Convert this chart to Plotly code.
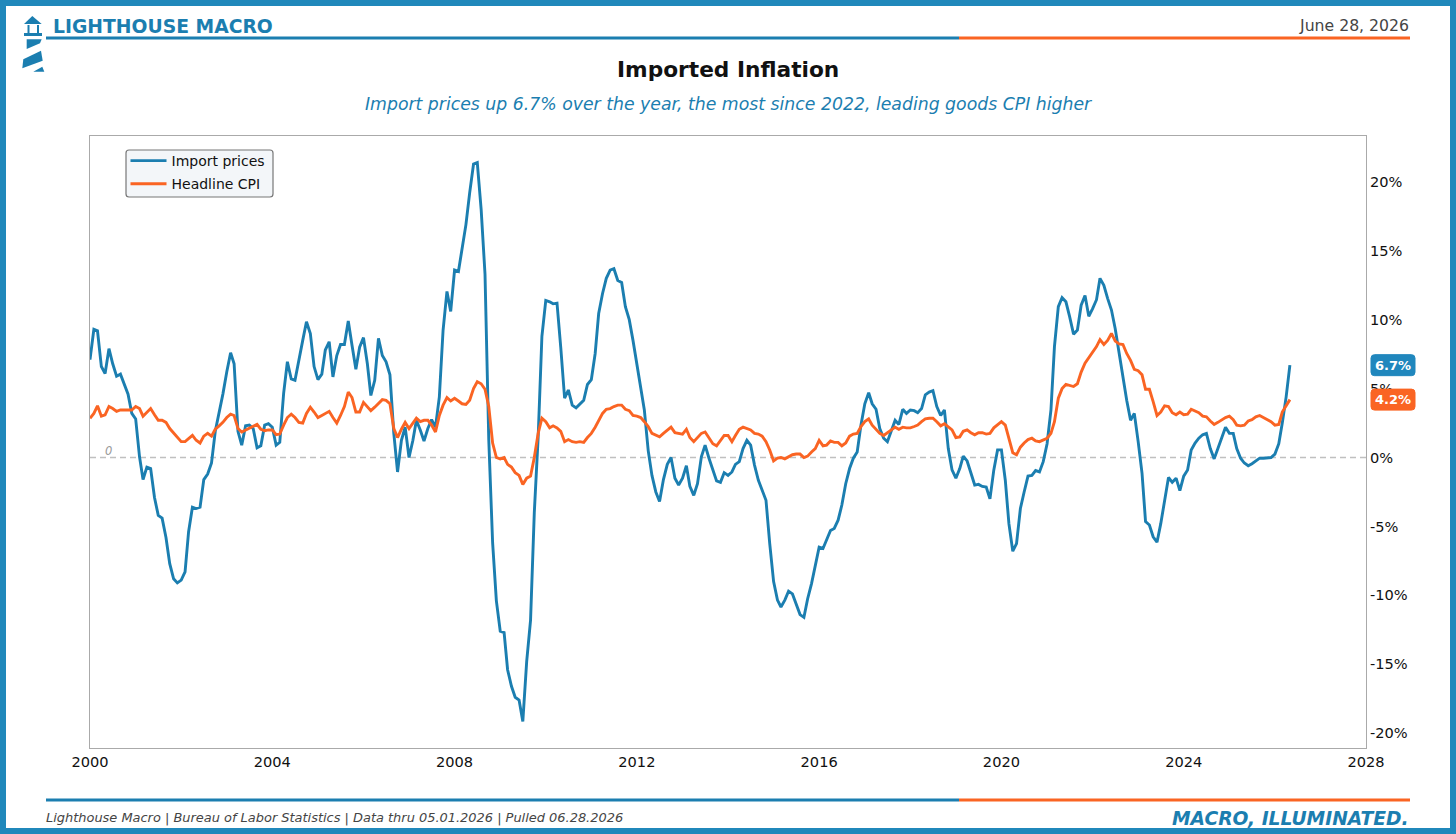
import pandas as pd
import plotly.graph_objects as go

# Year-over-year percent change, monthly from January 2000 to May 2026.
import_prices = [
    7.1, 9.3, 9.2, 6.6, 6.1, 7.9, 6.8, 5.9, 6.05, 5.4, 4.6, 3.2,
    2.8, 0.05, -1.6, -0.7, -0.8, -2.9, -4.2, -4.4, -5.8, -7.7, -8.8, -9.1,
    -8.9, -8.3, -5.4, -3.6, -3.7, -3.6, -1.6, -1.2, -0.4, 1.9, 3.2, 4.6,
    6.2, 7.6, 6.8, 1.9, 0.9, 2.3, 2.35, 2.1, 0.7, 0.85, 2.35, 2.45,
    2.2, 0.9, 1.1, 4.65, 6.95, 5.7, 5.6, 7.2, 8.5, 9.85, 9.0, 6.6,
    5.65, 6.05, 7.8, 8.4, 5.85, 7.4, 8.2, 8.2, 9.9, 8.15, 6.4, 8.0,
    8.7, 6.8, 4.5, 5.6, 8.65, 7.4, 6.95, 6.0, 1.75, -1.05, 1.25, 2.2,
    0.0, 1.25, 2.7, 2.0, 1.2, 2.1, 2.75, 2.2, 4.4, 9.25, 12.05, 10.6,
    13.6, 13.5, 15.3, 16.9, 19.2, 21.3, 21.4, 18.0, 13.3, 1.3, -6.2, -10.4,
    -12.6, -12.7, -15.4, -16.6, -17.4, -17.6, -19.15, -14.8, -11.8, -4.0, 1.5, 8.8,
    11.4, 11.3, 11.15, 11.2, 8.0, 4.3, 4.9, 3.8, 3.6, 3.9, 4.15, 5.3,
    5.65, 7.55, 10.45, 11.9, 13.0, 13.6, 13.7, 12.85, 12.7, 10.95, 10.0, 8.5,
    6.8, 5.1, 3.45, 0.5, -1.3, -2.5, -3.2, -1.6, -0.5, 0.0, -1.5, -2.0,
    -1.5, -0.6, -2.1, -2.75, -1.9, 0.05, 0.9, -0.05, -0.9, -1.7, -1.8, -1.1,
    -1.3, -1.05, -0.5, -0.3, 0.65, 1.25, 0.9, -0.55, -1.65, -2.35, -3.1, -6.25,
    -9.0, -10.35, -10.85, -10.35, -9.7, -9.9, -10.6, -11.4, -11.6, -10.25, -9.15, -7.95,
    -6.5, -6.6, -6.0, -5.3, -5.15, -4.55, -3.45, -1.9, -0.8, -0.05, 0.4, 2.35,
    3.9, 4.7, 3.9, 3.5, 2.1, 1.4, 1.15, 2.0, 2.7, 2.4, 3.5, 3.2,
    3.45, 3.4, 3.25, 3.55, 4.55, 4.75, 4.85, 3.7, 3.05, 3.45, 0.65, -0.9,
    -1.5, -0.8, 0.1, -0.25, -1.05, -2.0, -1.95, -2.1, -2.15, -3.0, -0.9, 0.55,
    0.55, -1.65, -4.8, -6.8, -6.25, -3.7, -2.5, -1.35, -1.3, -0.95, -1.05, -0.3,
    1.0, 3.45, 8.05, 10.95, 11.6, 11.3, 10.2, 8.95, 9.25, 11.05, 11.75, 10.25,
    10.8, 11.45, 13.0, 12.5, 11.55, 10.7, 9.35, 7.55, 6.0, 4.15, 2.7, 3.2,
    1.15, -1.15, -4.65, -4.9, -5.75, -6.15, -4.8, -3.1, -1.45, -1.8, -1.5, -2.4,
    -1.35, -0.9, 0.55, 1.05, 1.4, 1.65, 1.75, 0.65, -0.1, 0.65, 1.4, 2.2,
    1.75, 1.75, 0.65, -0.05, -0.4, -0.6, -0.45, -0.25, -0.05, -0.05, -0.05, 0.0,
    0.25, 1.0, 2.5, 4.4, 6.7,
]
headline_cpi = [
    2.85, 3.2, 3.75, 3.0, 3.1, 3.7, 3.55, 3.35, 3.45, 3.45, 3.45, 3.45,
    3.7, 3.55, 3.0, 3.25, 3.55, 3.1, 2.7, 2.7, 2.55, 2.1, 1.8, 1.5,
    1.15, 1.15, 1.4, 1.6, 1.25, 1.05, 1.55, 1.75, 1.55, 2.05, 2.3, 2.55,
    2.9, 3.15, 3.05, 2.1, 1.85, 2.0, 2.1, 2.25, 2.4, 2.05, 1.95, 2.0,
    2.0, 1.65, 1.7, 2.35, 2.9, 3.15, 2.9, 2.55, 2.5, 3.2, 3.65, 3.3,
    2.9, 3.05, 3.2, 3.35, 2.9, 2.5, 3.05, 3.7, 4.75, 4.35, 3.3, 3.3,
    4.0, 3.7, 3.4, 3.65, 3.95, 4.2, 4.15, 3.9, 2.1, 1.45, 2.05, 2.55,
    2.1, 2.45, 2.85, 2.6, 2.7, 2.7, 2.35, 1.85, 3.05, 3.8, 4.35, 4.1,
    4.3, 4.1, 3.9, 3.85, 4.15, 5.0, 5.5, 5.35, 4.95, 3.7, 1.05, 0.0,
    -0.1, 0.0, -0.5, -0.7, -1.1, -1.3, -1.95, -1.5, -1.35, 0.0, 1.75, 2.85,
    2.6, 2.15, 2.3, 2.15, 1.9, 1.15, 1.3, 1.15, 1.1, 1.15, 1.1, 1.45,
    1.75, 2.2, 2.7, 3.2, 3.5, 3.55, 3.7, 3.8, 3.8, 3.5, 3.4, 3.05,
    3.0, 2.9, 2.6, 2.25, 1.75, 1.6, 1.5, 1.75, 2.0, 2.2, 1.8, 1.75,
    1.7, 2.05, 1.45, 1.15, 1.45, 1.75, 1.85, 1.4, 1.0, 0.85, 1.25, 1.6,
    1.6, 1.15, 1.6, 2.05, 2.2, 2.1, 2.0, 1.75, 1.7, 1.55, 1.15, 0.55,
    -0.25, -0.05, 0.0, -0.1, 0.05, 0.2, 0.25, 0.25, 0.0, 0.1, 0.4, 0.65,
    1.25, 0.85, 0.9, 1.2, 1.1, 1.1, 0.85, 1.05, 1.55, 1.7, 1.75, 2.25,
    2.6, 2.8, 2.35, 2.05, 1.75, 1.6, 1.8, 2.05, 2.2, 2.05, 2.2, 2.15,
    2.15, 2.25, 2.35, 2.6, 2.8, 2.85, 2.85, 2.6, 2.3, 2.45, 2.2, 2.0,
    1.45, 1.5, 1.9, 2.0, 1.8, 1.65, 1.8, 1.8, 1.7, 1.75, 2.15, 2.4,
    2.6, 2.35, 1.4, 0.35, 0.2, 0.75, 1.05, 1.3, 1.4, 1.2, 1.15, 1.3,
    1.4, 1.75, 2.6, 4.3, 5.0, 5.3, 5.25, 5.15, 5.35, 6.2, 6.85, 7.25,
    7.65, 8.05, 8.55, 8.2, 8.5, 9.0, 8.45, 8.25, 8.2, 7.55, 7.05, 6.4,
    6.3, 6.0, 4.95, 4.95, 4.05, 3.05, 3.3, 3.75, 3.7, 3.25, 3.1, 3.3,
    3.1, 3.15, 3.5, 3.35, 3.25, 3.0, 2.95, 2.65, 2.4, 2.55, 2.75, 2.9,
    3.0, 2.75, 2.35, 2.3, 2.35, 2.65, 2.75, 2.95, 3.05, 2.9, 2.7, 2.6,
    2.35, 2.4, 3.3, 3.8, 4.2,
]
dates = pd.date_range("2000-01-01", periods=len(import_prices), freq="MS")
series_names = ["Import prices", "Headline CPI"]
year_ticks = [2000, 2004, 2008, 2012, 2016, 2020, 2024, 2028]
pct_ticks = [-20, -15, -10, -5, 0, 5, 10, 15, 20]

BLUE = "#1b7eb0"
FRAME = "#2088bb"
ORANGE = "#fa6423"
FONT = "DejaVu Sans"
W, H = 1456, 834
PL, PR, PT, PB = 90, 1366, 136, 748


def px(x):
    return (x - PL) / (PR - PL)


def py(y):
    return (PB - y) / (PB - PT)


def rounded(x0, y0, x1, y1, r):
    """SVG path of a rounded rectangle in paper fractions, given page pixels."""
    pts = [
        f"M{px(x0 + r)},{py(y0)}", f"L{px(x1 - r)},{py(y0)}",
        f"Q{px(x1)},{py(y0)} {px(x1)},{py(y0 + r)}", f"L{px(x1)},{py(y1 - r)}",
        f"Q{px(x1)},{py(y1)} {px(x1 - r)},{py(y1)}", f"L{px(x0 + r)},{py(y1)}",
        f"Q{px(x0)},{py(y1)} {px(x0)},{py(y1 - r)}", f"L{px(x0)},{py(y0 + r)}",
        f"Q{px(x0)},{py(y0)} {px(x0 + r)},{py(y0)}", "Z",
    ]
    return " ".join(pts)


def polygon(points):
    return "M" + " L".join(f"{px(x)},{py(y)}" for x, y in points) + " Z"


def emblem_part(points):
    return dict(type="path", xref="paper", yref="paper", fillcolor=BLUE,
                line=dict(width=0), layer="above", path=polygon(points))


def rule(x0, x1, y, color, width=3):
    return dict(type="line", xref="paper", yref="paper", x0=px(x0), x1=px(x1),
                y0=py(y), y1=py(y), line=dict(color=color, width=width), layer="above")


def label(x, y, text, size, color, anchor="left", bold=False, italic=False):
    return dict(
        xref="paper", yref="paper", x=px(x), y=py(y), text=text, showarrow=False,
        xanchor=anchor, yanchor="middle",
        font=dict(family=FONT, size=size, color=color,
                  weight="bold" if bold else "normal",
                  style="italic" if italic else "normal"),
    )


def badge(value, color):
    """Rounded tag on the right of the axis, vertically pinned to the value."""
    hw, hh, r = 22, 10.5, 3.5
    cx = px(1393)
    path = (f"M{-hw + r},{-hh} L{hw - r},{-hh} Q{hw},{-hh} {hw},{-hh + r} L{hw},{hh - r} "
            f"Q{hw},{hh} {hw - r},{hh} L{-hw + r},{hh} Q{-hw},{hh} {-hw},{hh - r} "
            f"L{-hw},{-hh + r} Q{-hw},{-hh} {-hw + r},{-hh} Z")
    return dict(type="path", xref="paper", xsizemode="pixel", xanchor=cx,
                yref="y", ysizemode="pixel", yanchor=value, path=path,
                fillcolor=color, line=dict(color=color, width=1), layer="above")


fig = go.Figure()
for name, values, color in zip(series_names, [import_prices, headline_cpi], [BLUE, ORANGE]):
    fig.add_trace(go.Scatter(x=dates, y=values, name=name, mode="lines", legendgroup=name,
                             line=dict(color=color, width=2.9)))

shapes = [
    # page frame
    dict(type="rect", xref="paper", yref="paper", x0=px(3), x1=px(W - 3), y0=py(3), y1=py(H - 3),
         line=dict(color=FRAME, width=6), fillcolor="rgba(0,0,0,0)", layer="above"),
    # header and footer rules
    rule(46, 959, 38, BLUE), rule(959, 1410, 38, ORANGE),
    rule(46, 959, 800, BLUE), rule(959, 1410, 800, ORANGE),
    # zero reference
    dict(type="line", xref="x domain", yref="y", x0=0, x1=1, y0=0, y1=0,
         line=dict(color="#c0c0c0", width=1.3, dash="6px,4px"), layer="below"),
    # legend box
    dict(type="path", xref="paper", yref="paper", path=rounded(126, 150, 273, 197, 3),
         fillcolor="#f3f6f9", line=dict(color="#777777", width=1.2), layer="below"),
    # lighthouse emblem
    emblem_part([(24, 24), (32.3, 16), (41.7, 24)]),
    emblem_part([(27.5, 25), (29.5, 25), (29.5, 33), (27.5, 33)]),
    emblem_part([(37, 25), (39, 25), (39, 33), (37, 33)]),
    emblem_part([(24, 33), (42, 33), (42, 36), (24, 36)]),
    emblem_part([(26.7, 39.3), (41.7, 39.3), (40, 43.3), (26.7, 49)]),
    emblem_part([(23.3, 59.3), (41, 50.7), (42.7, 60.7), (22.3, 68.3)]),
    emblem_part([(33.3, 71.7), (42.3, 66.7), (44.3, 71.7)]),
    # value tags
    badge(import_prices[-1], "#2087bd"),
    badge(headline_cpi[-1], ORANGE),
]

annotations = [
    label(51, 27, "LIGHTHOUSE MACRO", 18.75, BLUE, bold=True),
    label(1411, 26, "June 28, 2026", 15.7, "#444444", anchor="right"),
    label(728, 69.5, "Imported Inflation", 21.7, "#111111", anchor="center", bold=True),
    label(728, 104, "Import prices up 6.7% over the year, the most since 2022, leading goods CPI higher",
          17.3, BLUE, anchor="center", italic=True),
    label(44, 818, "Lighthouse Macro | Bureau of Labor Statistics | Data thru 05.01.2026 | Pulled 06.28.2026",
          12.95, "#444444", italic=True),
    label(1411, 818.5, "MACRO, ILLUMINATED.", 18.7, BLUE, anchor="right", bold=True, italic=True),
    label(103, 451, "0", 11.5, "#999999", italic=True),
    dict(xref="paper", x=px(1393), yref="y", y=import_prices[-1], text=f"{import_prices[-1]:.1f}%",
         showarrow=False, xanchor="center", yanchor="middle",
         font=dict(family=FONT, size=13, color="white", weight="bold")),
    dict(xref="paper", x=px(1393), yref="y", y=headline_cpi[-1], text=f"{headline_cpi[-1]:.1f}%",
         showarrow=False, xanchor="center", yanchor="middle",
         font=dict(family=FONT, size=13, color="white", weight="bold")),
]

fig.update_layout(
    width=W, height=H, autosize=False,
    margin=dict(l=PL, r=W - PR, t=PT, b=H - PB, pad=0),
    paper_bgcolor="white", plot_bgcolor="white",
    font=dict(family=FONT, size=14.6, color="#111111"),
    shapes=shapes, annotations=annotations,
    legend=dict(x=px(125.5), y=py(145), xanchor="left", yanchor="top",
                bgcolor="rgba(0,0,0,0)", borderwidth=0,
                font=dict(family=FONT, size=14, color="#111111"),
                itemwidth=36, tracegroupgap=2),
    xaxis=dict(
        type="date", range=["2000-01-01", "2028-01-01"],
        tickvals=[f"{y}-01-01" for y in year_ticks], ticktext=[str(y) for y in year_ticks],
        showgrid=False, zeroline=False, showline=True, linecolor="#aaaaaa", linewidth=1,
        mirror=True, ticks="", tickfont=dict(family=FONT, size=14.6, color="#111111"),
    ),
    yaxis=dict(
        side="right", range=[-21.08, 23.33], tickvals=pct_ticks,
        ticktext=[f"{v}%" for v in pct_ticks],
        showgrid=False, zeroline=False, showline=True, linecolor="#aaaaaa", linewidth=1,
        mirror=True, ticks="", tickfont=dict(family=FONT, size=14.6, color="#111111"),
    ),
)

assert len(import_prices) == len(headline_cpi) == 317
fig.write_html("out.html")
